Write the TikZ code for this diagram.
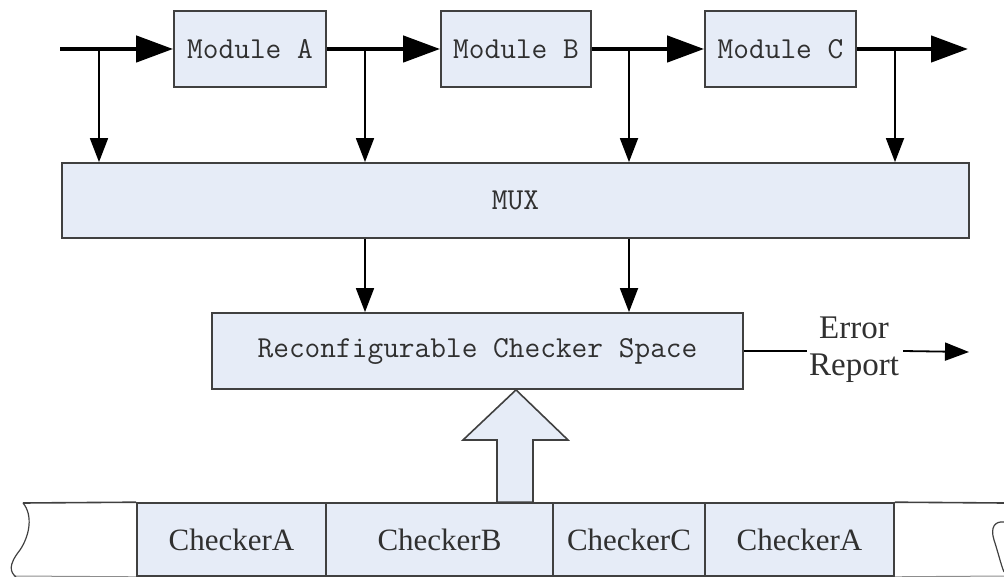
\documentclass[tikz,border=0pt]{standalone}
\usepackage{fontspec}
\setmainfont{Liberation Serif}
\usetikzlibrary{arrows.meta,calc}
\definecolor{boxfill}{HTML}{E6ECF7}
\definecolor{boxline}{HTML}{404040}
\definecolor{txt}{HTML}{303030}
\tikzset{
  monobox/.style={draw=boxline,line width=1.8pt,fill=boxfill,text=txt,
    font=\ttfamily\fontsize{30.5}{36}\selectfont,inner sep=0pt},
  cell/.style={draw=boxline,line width=1.6pt,fill=boxfill,text=txt,
    font=\fontsize{31}{36}\selectfont,inner sep=0pt,minimum height=73pt},
  bus/.style={line width=4.5pt,-{Triangle[length=37pt,width=26pt]}},
  tap/.style={line width=1.8pt,-{Triangle[length=24pt,width=18pt]}},
  thin/.style={line width=1.8pt},
  edge/.style={draw=boxline,line width=1.6pt},
  errlbl/.style={text=txt,font=\fontsize{33}{37}\selectfont,align=center,inner sep=0pt},
}
\begin{document}
\begin{tikzpicture}[x=1pt,y=-1pt]
\useasboundingbox (0,0) rectangle (1004,577);
% top modules
\node[monobox,minimum width=152pt,minimum height=76pt] (A) at (250,49) {Module A};
\node[monobox,minimum width=150pt,minimum height=76pt] (B) at (516,49) {Module B};
\node[monobox,minimum width=151pt,minimum height=76pt] (C) at (780.5,49) {Module C};
\node[monobox,minimum width=907pt,minimum height=75pt] (mux) at (515.5,200.5) {MUX};
\node[monobox,minimum width=531pt,minimum height=76pt] (rcs) at (477.5,351) {Reconfigurable Checker Space};
% bus
\coordinate (in) at (60,49);
\coordinate (out) at (968,49);
\coordinate (t1) at (99,49);
\coordinate (t2) at (365,49);
\coordinate (t3) at (629,49);
\coordinate (t4) at (895,49);
\draw[bus] (in) -- (A.west);
\draw[bus] (A.east) -- (B.west);
\draw[bus] (B.east) -- (C.west);
\draw[bus] (C.east) -- (out);
\foreach \t in {t1,t2,t3,t4}{
  \draw[tap] (\t) -- (mux.north -| \t);
}
\draw[tap] (mux.south -| t2) -- (rcs.north -| t2);
\draw[tap] (mux.south -| t3) -- (rcs.north -| t3);
% error report
\node[errlbl] (err) at (854,350) {Error\\Report};
\coordinate (errout) at (969,352);
\draw[thin] (rcs.east) -- ($(err.west |- rcs.east)+(-2,0)$);
\draw[tap] ($(err.east |- rcs.east)+(4,0)$) -- (errout);
% checker strip
\node[cell,minimum width=189pt] (ca1) at (231.5,539.5) {CheckerA};
\node[cell,minimum width=227pt] (cb) at (439.5,539.5) {CheckerB};
\node[cell,minimum width=152pt] (cc) at (629,539.5) {CheckerC};
\node[cell,minimum width=189pt] (ca2) at (799.5,539.5) {CheckerA};
\coordinate (lt) at (23,503);
\coordinate (rt) at (1004,503);
\draw[edge] (ca1.north west) -- (lt);
\draw[edge] (ca2.north east) -- (rt);
\draw[boxline!60,line width=1pt] (ca1.south west) -- (14,576);
\draw[boxline!60,line width=1pt] (ca2.south east) -- (1004,576);
\draw[boxline,line width=1.2pt] (lt) .. controls (33,515) and (30,535) .. (20,550)
   .. controls (8,565) and (10,572) .. (16,577);
\draw[boxline,line width=1.2pt] (1004,522) .. controls (995,521) and (990,527) .. (994,540)
   .. controls (998,552) and (1001,565) .. (1004,572);
% big arrow
\coordinate (tip) at (rcs.south -| 516,0);
\draw[edge,fill=boxfill,line join=miter]
  (tip) -- (568,440) -- (533,440) -- (cb.north -| 533,0) -- (cb.north -| 497,0)
  -- (497,440) -- (463,440) -- cycle;
\end{tikzpicture}
\end{document}
